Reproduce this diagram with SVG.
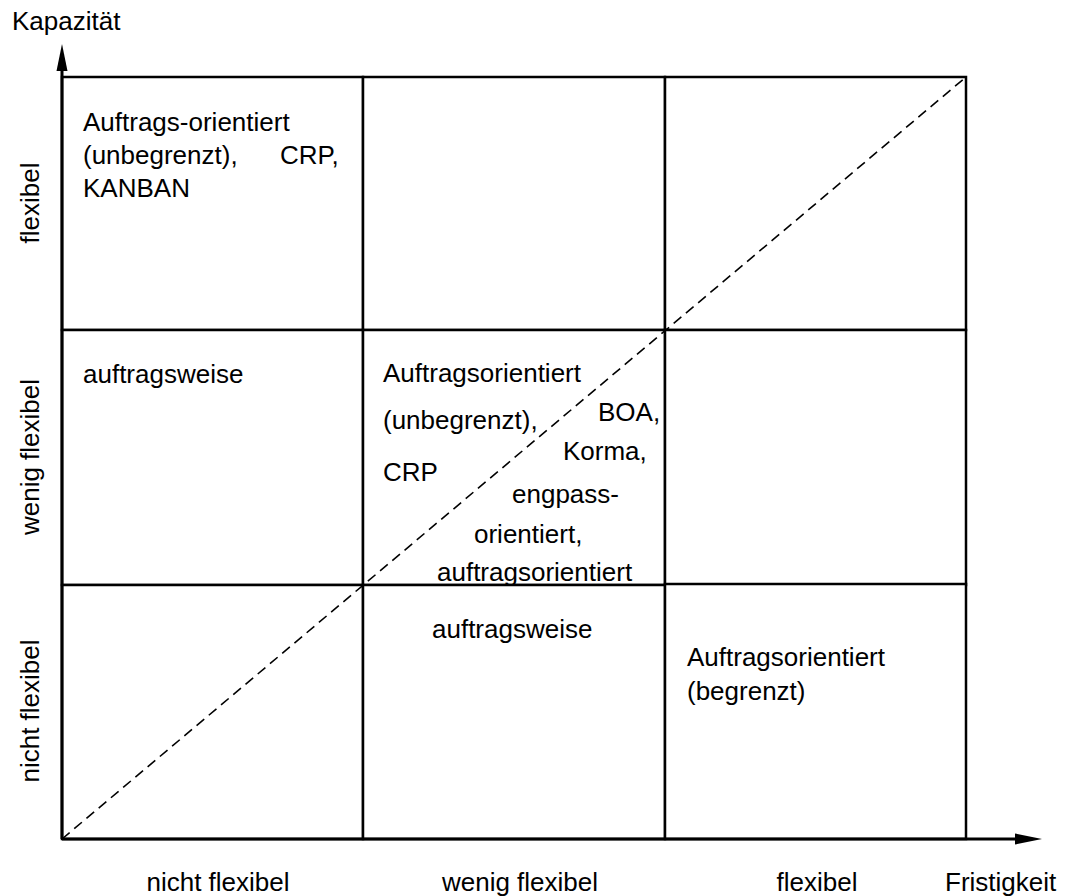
<svg xmlns="http://www.w3.org/2000/svg" width="1065" height="896" viewBox="0 0 1065 896">
  <style>
    .cell { fill: #ffffff; stroke: #000000; stroke-width: 2.5; }
    .t { font-family: "Liberation Sans", Arial, sans-serif; font-size: 26px; fill: #000000; }
    .axis { stroke: #000000; stroke-width: 3; fill: none; }
    .diag { stroke: #000000; stroke-width: 1.6; stroke-dasharray: 10 6; fill: none; }
  </style>

  <!-- axis titles -->
  <text class="t" x="12" y="30">Kapazität</text>
  <text class="t" x="945" y="891">Fristigkeit</text>

  <!-- row labels (Kapazität) -->
  <text class="t" text-anchor="middle" transform="translate(39,203) rotate(-90)">flexibel</text>
  <text class="t" text-anchor="middle" transform="translate(39,457) rotate(-90)">wenig flexibel</text>
  <text class="t" text-anchor="middle" transform="translate(39,711) rotate(-90)">nicht flexibel</text>

  <!-- column labels (Fristigkeit) -->
  <text class="t" text-anchor="middle" x="218" y="891">nicht flexibel</text>
  <text class="t" text-anchor="middle" x="520" y="891">wenig flexibel</text>
  <text class="t" text-anchor="middle" x="817" y="891">flexibel</text>

  <!-- top row -->
  <g id="cell-flex-nicht">
    <rect class="cell" x="62" y="77" width="301" height="253"/>
    <text class="t" x="83" y="131">Auftrags-orientiert</text>
    <text class="t" x="83" y="164">(unbegrenzt),</text>
    <text class="t" x="280" y="164">CRP,</text>
    <text class="t" x="83" y="197">KANBAN</text>
  </g>
  <g id="cell-flex-wenig">
    <rect class="cell" x="363" y="77" width="302" height="253"/>
  </g>
  <g id="cell-flex-flex">
    <rect class="cell" x="665" y="77" width="301" height="253"/>
  </g>

  <!-- middle row -->
  <g id="cell-wenig-nicht">
    <rect class="cell" x="62" y="330" width="301" height="255"/>
    <text class="t" x="83" y="383">auftragsweise</text>
  </g>
  <g id="cell-wenig-wenig">
    <rect class="cell" x="363" y="330" width="302" height="255"/>
    <text class="t" x="383" y="382">Auftragsorientiert</text>
    <text class="t" x="383" y="429">(unbegrenzt),</text>
    <text class="t" x="598" y="421">BOA,</text>
    <text class="t" x="563" y="460">Korma,</text>
    <text class="t" x="383" y="481">CRP</text>
    <text class="t" x="512" y="503">engpass-</text>
    <text class="t" x="474" y="543">orientiert,</text>
    <text class="t" x="437" y="581">auftragsorientiert</text>
  </g>
  <g id="cell-wenig-flex">
    <rect class="cell" x="665" y="330" width="301" height="255"/>
  </g>

  <!-- bottom row -->
  <g id="cell-nicht-nicht">
    <rect class="cell" x="62" y="585" width="301" height="254"/>
  </g>
  <g id="cell-nicht-wenig">
    <rect class="cell" x="363" y="585" width="302" height="254"/>
    <text class="t" x="432" y="638">auftragsweise</text>
  </g>
  <g id="cell-nicht-flex">
    <rect class="cell" x="665" y="584" width="301" height="255"/>
    <text class="t" x="687" y="666">Auftragsorientiert</text>
    <text class="t" x="687" y="700">(begrenzt)</text>
  </g>

  <!-- axes and diagonal -->
  <g id="connectors">
    <line class="axis" x1="62" y1="839" x2="62" y2="68"/>
    <polygon points="56.5,71 62,44 67.5,71" fill="#000000"/>
    <line class="axis" x1="62" y1="839" x2="1018" y2="839"/>
    <polygon points="1015,833.5 1042,839 1015,844.5" fill="#000000"/>
    <line class="diag" x1="62" y1="839" x2="966" y2="77"/>
  </g>
</svg>
